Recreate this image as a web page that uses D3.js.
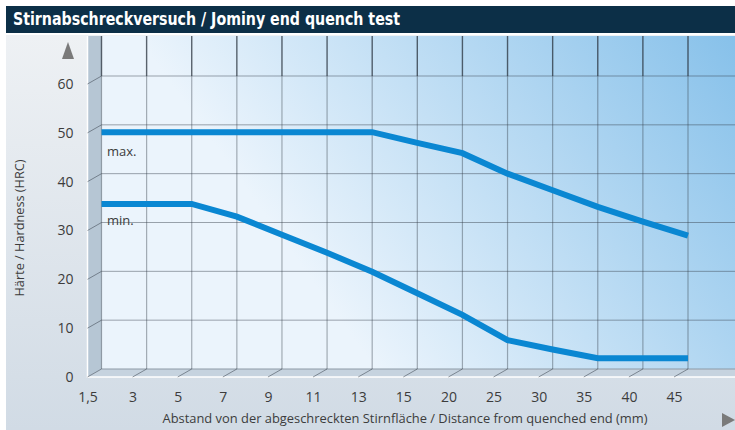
<!DOCTYPE html>
<html>
<head>
<meta charset="utf-8">
<script src="https://cdn.jsdelivr.net/npm/d3@7"></script>
<style>
  body { margin: 0; background: #fff; }
  svg text { font-family: "Open Sans", "Noto Sans", sans-serif; }
</style>
</head>
<body>
<svg id="chart"></svg>
<script>
const size = {w: 735, h: 430};

// categories on the x axis (distance from quenched end, mm)
const distances = ['1,5', '3', '5', '7', '9', '11', '13', '15', '20', '25', '30', '35', '40', '45'];
// hardness HRC
const maxHardness = [48.5, 48.5, 48.5, 48.5, 48.5, 48.5, 48.5, 46.3, 44.2, 40, 36.6, 33.2, 30.2, 27.3];
const minHardness = [33.8, 33.8, 33.8, 31.2, 27.5, 23.8, 19.9, 15.5, 11.1, 5.9, 4.0, 2.2, 2.2, 2.2];
const yTicks = [0, 10, 20, 30, 40, 50, 60];

// 3d offset between front edge and back wall
const depth = {x: 14, y: 8};

const svg = d3.select('svg#chart')
    .attr('width', size.w)
    .attr('height', size.h);

const defs = svg.append('defs');

const wallGrad = defs.append('linearGradient')
    .attr('id', 'wall')
    .attr('gradientUnits', 'userSpaceOnUse')
    .attr('x1', 340).attr('y1', 320)
    .attr('x2', 735).attr('y2', 37);
wallGrad.append('stop').attr('offset', 0).attr('stop-color', '#ebf4fc');
wallGrad.append('stop').attr('offset', 1).attr('stop-color', '#87c1ea');

const bgGrad = defs.append('linearGradient')
    .attr('id', 'bg')
    .attr('x1', 0).attr('y1', 0).attr('x2', 0).attr('y2', 1);
bgGrad.append('stop').attr('offset', 0).attr('stop-color', '#eef1f4');
bgGrad.append('stop').attr('offset', 1).attr('stop-color', '#d1dbe5');

const x = d3.scalePoint()
    .domain(distances)
    .range([101.5, 688]);

const y = d3.scaleLinear()
    .domain([0, 60])
    .range([369, 76]);

const plotTop = 36;
const plotRight = 735;
const x0 = x.range()[0];
const y0 = y(0);

// title bar
svg.append('rect')
    .attr('x', 6).attr('y', 6)
    .attr('width', size.w - 6).attr('height', 27)
    .attr('fill', '#0c2f47');

svg.append('text')
    .attr('x', 13).attr('y', 25)
    .attr('fill', '#fff')
    .attr('font-size', 17)
    .attr('font-weight', 'bold')
    .style('font-family', '"DejaVu Sans Condensed", "Liberation Sans Narrow", sans-serif')
    .attr('textLength', 387)
    .attr('lengthAdjust', 'spacingAndGlyphs')
    .text('Stirnabschreckversuch / Jominy end quench test');

// outer background
svg.append('rect')
    .attr('x', 6).attr('y', 35)
    .attr('width', size.w - 6).attr('height', size.h - 35)
    .attr('fill', 'url(#bg)');

// back wall
svg.append('rect')
    .attr('x', x0).attr('y', plotTop)
    .attr('width', plotRight - x0).attr('height', y0 - plotTop)
    .attr('fill', 'url(#wall)');

// left wall and floor
svg.append('polygon')
    .attr('points', [[x0 - depth.x, plotTop], [x0, plotTop], [x0, y0], [x0 - depth.x, y0 + depth.y]].join(' '))
    .attr('fill', '#b6c6d4');

svg.append('polygon')
    .attr('points', [[x0 - depth.x, y0 + depth.y], [x0, y0], [plotRight, y0], [plotRight, y0 + depth.y]].join(' '))
    .attr('fill', '#c6d3df');

svg.append('path')
    .attr('d', `M${x0 - depth.x},${plotTop}V${y0 + depth.y}H${plotRight}`)
    .attr('fill', 'none')
    .attr('stroke', '#fff')
    .attr('stroke-width', 1.5);

const grid = svg.append('g').classed('grid', true);

// horizontal gridlines on back wall
grid.selectAll('line.h')
    .data(yTicks)
    .join('line')
    .classed('h', true)
    .attr('x1', x0).attr('x2', plotRight)
    .attr('y1', d => y(d)).attr('y2', d => y(d))
    .attr('stroke', d => d === 0 ? '#8d9aa6' : 'rgba(50,60,70,0.45)')
    .attr('stroke-width', 1);

// vertical gridlines, darker above the top tick
grid.selectAll('line.v')
    .data(distances)
    .join('line')
    .classed('v', true)
    .attr('x1', d => x(d)).attr('x2', d => x(d))
    .attr('y1', y(60)).attr('y2', y0)
    .attr('stroke', 'rgba(50,60,70,0.4)')
    .attr('stroke-width', 1.2);

grid.selectAll('line.vt')
    .data(distances)
    .join('line')
    .classed('vt', true)
    .attr('x1', d => x(d)).attr('x2', d => x(d))
    .attr('y1', plotTop).attr('y2', y(60))
    .attr('stroke', 'rgba(40,50,60,0.75)')
    .attr('stroke-width', 1.4);

// diagonal ticks on the left wall and floor
grid.selectAll('line.yd')
    .data(yTicks.filter(d => d > 0))
    .join('line')
    .classed('yd', true)
    .attr('x1', x0 - depth.x).attr('y1', d => y(d) + depth.y)
    .attr('x2', x0).attr('y2', d => y(d))
    .attr('stroke', 'rgba(60,70,80,0.55)');

grid.selectAll('line.xd')
    .data(distances)
    .join('line')
    .classed('xd', true)
    .attr('x1', d => x(d) - depth.x).attr('y1', y0 + depth.y)
    .attr('x2', d => x(d)).attr('y2', y0)
    .attr('stroke', 'rgba(60,70,80,0.55)');

// axes (labels on the front edge)
const yAxis = svg.append('g')
    .attr('transform', `translate(${x0 - depth.x}, ${depth.y})`)
    .call(d3.axisLeft(y).tickValues(yTicks).tickSize(0).tickPadding(14));

const xAxis = svg.append('g')
    .attr('transform', `translate(${-depth.x}, ${y0 + depth.y})`)
    .call(d3.axisBottom(x).tickSize(0).tickPadding(15));

[yAxis, xAxis].forEach(a => {
    a.select('.domain').remove();
    a.selectAll('text')
        .attr('fill', '#3c3c3c')
        .attr('font-size', 14)
        .style('font-family', '"Open Sans", sans-serif');
});

// data lines
const line = d3.line()
    .x((d, i) => x(distances[i]))
    .y(d => y(d));

svg.append('g')
    .classed('lines', true)
    .selectAll('path')
    .data([maxHardness, minHardness])
    .join('path')
    .attr('d', d => line(d))
    .attr('fill', 'none')
    .attr('stroke', '#0a87d2')
    .attr('stroke-width', 6);

svg.append('text')
    .attr('x', 107).attr('y', 156)
    .attr('font-size', 13).attr('fill', '#3c3c3c')
    .text('max.');

svg.append('text')
    .attr('x', 107).attr('y', 225)
    .attr('font-size', 13).attr('fill', '#3c3c3c')
    .text('min.');

// axis titles
svg.append('text')
    .attr('x', 405).attr('y', 423)
    .attr('text-anchor', 'middle')
    .attr('font-size', 13).attr('fill', '#3c3c3c')
    .attr('textLength', 485)
    .attr('lengthAdjust', 'spacingAndGlyphs')
    .text('Abstand von der abgeschreckten Stirnfläche / Distance from quenched end (mm)');

svg.append('text')
    .attr('transform', 'translate(24, 228) rotate(-90)')
    .attr('text-anchor', 'middle')
    .attr('font-size', 13).attr('fill', '#3c3c3c')
    .attr('textLength', 137)
    .attr('lengthAdjust', 'spacingAndGlyphs')
    .text('Härte / Hardness (HRC)');

// arrows
svg.append('path')
    .attr('d', 'M62,59L74,59L68,42Z')
    .attr('fill', '#7a7a7a');

svg.append('path')
    .attr('d', 'M722,413L722,427L735,420Z')
    .attr('fill', '#7a7a7a');
</script>
</body>
</html>
